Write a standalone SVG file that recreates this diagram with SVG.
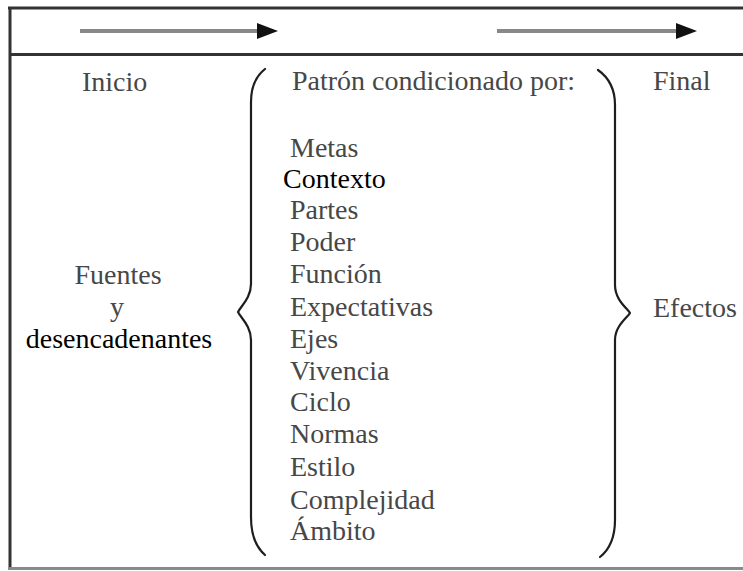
<svg xmlns="http://www.w3.org/2000/svg" width="743" height="571" viewBox="0 0 743 571" font-family="Liberation Serif, DejaVu Serif, serif" font-size="28">
  <style>
    .t { fill: #474747; }
    .blk { fill: #000; }
    .frame { stroke: #333; stroke-width: 3; fill: none; }
    .frame-b { stroke: #8a8a8a; stroke-width: 3; fill: none; }
    .brace { stroke: #1e1e1e; stroke-width: 2.2; fill: none; stroke-linecap: round; stroke-linejoin: round; }
    .arrow { stroke: #888; stroke-width: 4; fill: none; }
  </style>
  <defs>
    <marker id="head" markerUnits="userSpaceOnUse" markerWidth="22" markerHeight="18" refX="0" refY="8" orient="auto">
      <path d="M0,0 L21,8 L0,16 z" fill="#111"/>
    </marker>
  </defs>
  <rect width="743" height="571" fill="#fff"/>

  <g id="frame">
    <line class="frame" x1="8" y1="8" x2="743" y2="8"/>
    <line class="frame" x1="10" y1="8" x2="10" y2="568"/>
    <line class="frame" x1="10" y1="54.5" x2="743" y2="54.5"/>
    <line class="frame-b" x1="8" y1="568.5" x2="743" y2="568.5"/>
  </g>

  <g id="connectors">
    <line class="arrow" x1="80" y1="31" x2="257" y2="31" marker-end="url(#head)"/>
    <line class="arrow" x1="497" y1="31" x2="676" y2="31" marker-end="url(#head)"/>
  </g>

  <g id="inicio" class="t">
    <text x="82" y="91">Inicio</text>
    <text x="118" y="284" text-anchor="middle">Fuentes</text>
    <text x="117" y="316" text-anchor="middle">y</text>
    <text class="blk" x="119" y="348" text-anchor="middle">desencadenantes</text>
  </g>

  <g id="brace-left">
    <path class="brace" d="M265,69 Q251,80 251,102 L251,284 C251,298 241,306 238,312 C241,318 251,326 251,340 L251,517 Q251,543 265,555"/>
  </g>

  <g id="patron" class="t">
    <text x="292" y="90">Patrón condicionado por:</text>
    <text x="290" y="157">Metas</text>
    <text class="blk" x="283" y="188">Contexto</text>
    <text x="290" y="219">Partes</text>
    <text x="290" y="251">Poder</text>
    <text x="290" y="283">Función</text>
    <text x="290" y="316">Expectativas</text>
    <text x="290" y="348">Ejes</text>
    <text x="290" y="380">Vivencia</text>
    <text x="290" y="411">Ciclo</text>
    <text x="290" y="443">Normas</text>
    <text x="290" y="476">Estilo</text>
    <text x="290" y="509">Complejidad</text>
    <text x="290" y="540">Ámbito</text>
  </g>

  <g id="brace-right">
    <path class="brace" d="M598,70 Q615,82 615,105 L615,285 C615,300 627,308 630,313 C627,318 615,326 615,340 L615,520 Q615,545 600,557"/>
  </g>

  <g id="final" class="t">
    <text x="653" y="90">Final</text>
    <text x="653" y="317">Efectos</text>
  </g>
</svg>
